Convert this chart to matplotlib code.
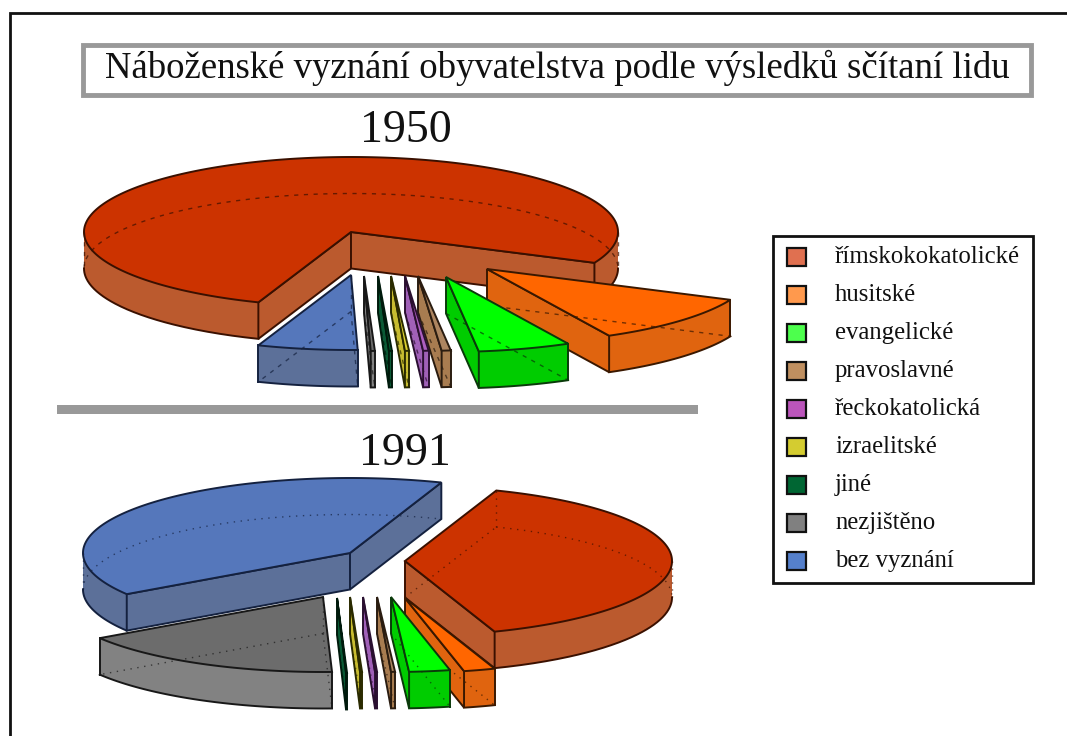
import matplotlib
matplotlib.use("Agg")
import matplotlib.pyplot as plt
from matplotlib.patches import Polygon, Rectangle
import numpy as np

plt.rcParams['font.family'] = ['Liberation Serif', 'DejaVu Serif']

title = "Náboženské vyznání obyvatelstva podle výsledků sčítaní lidu"
categories = ["římskokokatolické", "husitské", "evangelické", "pravoslavné", "řeckokatolická",
              "izraelitské", "jiné", "nezjištěno", "bez vyznání"]
shares_1950 = [76.1, 10.7, 5.6, 0.55, 0.33, 0.25, 0.18, 0.25, 6.04]
shares_1991 = [39.0, 1.9, 2.47, 0.24, 0.12, 0.12, 0.06, 16.3, 39.8]

# how far each slice is pulled out of the pie, in pixels
offsets_1950 = [(0, 0), (136, 37), (95, 45), (67, 44), (54, 44), (40, 44), (27, 44), (13, 44), (0, 43)]
offsets_1991 = [(55, 8), (55, 45), (41, 44), (27, 44), (13, 44), (0, 44), (-13, 45), (-27, 44), (0, 0)]

top_colors = ["#cc3300", "#ff6600", "#00ff00", "#ad8560", "#ad5fc0", "#dcd030", "#006633", "#6c6c6c", "#5577bb"]
side_colors = ["#bb5a2e", "#e0640f", "#00cc00", "#a87c50", "#a060b8", "#c8bc30", "#0a5a35", "#828282", "#5c7099"]
edge_colors = ["#3a1000", "#3a1800", "#0a3a0a", "#2a1c10", "#2a1030", "#2a2a00", "#001a0c", "#181818", "#14213f"]
legend_colors = ["#e07050", "#ff994d", "#4dff4d", "#bf8f60", "#bb55bb", "#d4cc30", "#006633", "#808080", "#5580cc"]

RX, RY, DEPTH = 267, 75, 36.5


def arc(cx, cy, a0, a1):
    t = np.radians(np.linspace(a0, a1, max(int(abs(a1 - a0)) * 2, 2)))
    return np.column_stack([cx + RX * np.cos(t), cy - RY * np.sin(t)])


def draw_slice(ax, cx, cy, a0, a1, top, side, edge, dots):
    # a0 > a1, the slice runs clockwise from a0 to a1
    lw = 1.4
    hidden = dict(color=edge, lw=1.0, ls=dots, alpha=0.7, zorder=ax.zo + 0.5)
    down = np.array([0, DEPTH])
    apex = np.array([cx, cy])
    p0 = arc(cx, cy, a0, a0)[0]
    p1 = arc(cx, cy, a1, a1)[0]

    # outer rim, split where it turns from the front to the back
    stops = [a0] + [k * 180 for k in range(int(np.floor(a0 / 180)), int(np.ceil(a1 / 180)) - 1, -1)
                    if a1 < k * 180 < a0] + [a1]
    for s0, s1 in zip(stops[:-1], stops[1:]):
        rim = arc(cx, cy, s0, s1)
        if np.sin(np.radians((s0 + s1) / 2)) < 0:
            ax.add_patch(Polygon(np.vstack([rim, (rim + down)[::-1]]), fc=side, ec="none", zorder=ax.zo))
            ax.plot(rim[:, 0], rim[:, 1] + DEPTH, color=edge, lw=lw, zorder=ax.zo)
        else:
            ax.plot(rim[:, 0], rim[:, 1] + DEPTH, **hidden)
    for s in stops[1:-1]:
        p = arc(cx, cy, s, s)[0]
        ax.plot([p[0], p[0]], [p[1], p[1] + DEPTH], **hidden)

    # the two cut faces, seen only when they turn towards the viewer
    show0 = np.cos(np.radians(a0)) < 0
    show1 = np.cos(np.radians(a1)) > 0
    for p, show, a in ((p0, show0, a0), (p1, show1, a1)):
        if show:
            ax.add_patch(Polygon([apex, p, p + down, apex + down], fc=side, ec=edge, lw=lw, zorder=ax.zo))
        else:
            ax.plot([apex[0], p[0]], [apex[1] + DEPTH, p[1] + DEPTH], **hidden)
            if np.sin(np.radians(a)) > 0:
                ax.plot([p[0], p[0]], [p[1], p[1] + DEPTH], **hidden)
            else:
                ax.plot([p[0], p[0]], [p[1], p[1] + DEPTH], color=edge, lw=lw, zorder=ax.zo)
    if not show0 and not show1:
        ax.plot([cx, cx], [cy, cy + DEPTH], **hidden)

    ax.add_patch(Polygon(np.vstack([apex, arc(cx, cy, a0, a1)]), fc=top, ec=edge, lw=lw,
                         joinstyle="miter", zorder=ax.zo + 0.2))
    ax.zo += 1


def draw_pie(ax, cx, cy, shares, offsets, start, dots):
    angles = start - np.cumsum([0] + shares) / sum(shares) * 360
    for i in range(len(shares)):
        dx, dy = offsets[i]
        draw_slice(ax, cx + dx, cy + dy, angles[i], angles[i + 1],
                   top_colors[i], side_colors[i], edge_colors[i], dots)


fig = plt.figure(figsize=(10.67, 7.36), dpi=100)
ax = fig.add_axes([0, 0, 1, 1])
ax.set_xlim(0, 1067)
ax.set_ylim(736, 0)
ax.axis("off")
ax.zo = 3

# frame of the slide
ax.plot([9.5, 9.5, 1067], [736, 12.5, 12.5], color="#111111", lw=2, solid_joinstyle="miter")

ax.add_patch(Rectangle((82.5, 44.5), 948, 50, fc="white", ec="#999999", lw=3.5))
ax.text(557.5, 78, title, fontsize=26.5, ha="center", va="baseline", color="#111111")

ax.text(406, 142, "1950", fontsize=33, ha="center", va="baseline", color="#111111")
ax.text(405, 465, "1991", fontsize=33, ha="center", va="baseline", color="#111111")
ax.add_patch(Rectangle((57, 405), 641, 9, fc="#999999", ec="none"))

draw_pie(ax, 351, 232, shares_1950, offsets_1950, -110.3, (0, (3, 4)))
draw_pie(ax, 350, 553, shares_1991, offsets_1991, 70, (0, (1, 4)))

# legend
ax.add_patch(Rectangle((773, 236), 260, 347, fc="white", ec="#111111", lw=2, zorder=100))
for i, name in enumerate(categories):
    y = 257 + i * 38
    ax.add_patch(Rectangle((787, y - 9), 19, 18, fc=legend_colors[i], ec="#111111", lw=1.6, zorder=101))
    ax.text(835, y + 6, name, fontsize=17.8, ha="left", va="baseline", color="#111111", zorder=101)

fig.savefig("out.png", dpi=100)
